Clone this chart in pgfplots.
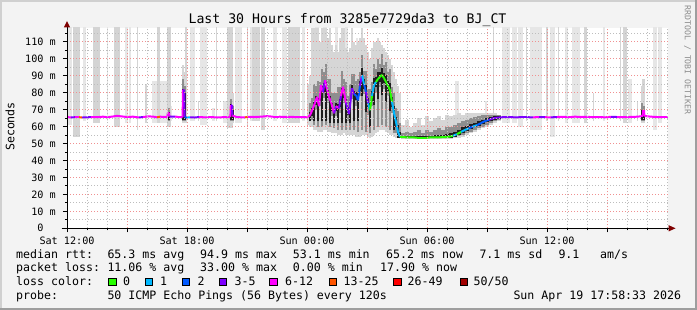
\documentclass[border=0pt]{standalone}
\usepackage{pgfplots}
\pgfplotsset{compat=1.18}
\usepackage{pgfplotstable}
\usepackage{fontspec}
\setmainfont{DejaVu Sans Mono}

\definecolor{bg}{HTML}{F3F3F3}
\definecolor{shadeA}{HTML}{D0D0D0}
\definecolor{shadeB}{HTML}{9E9E9E}
\definecolor{stripeL}{HTML}{E6E6E6}
\definecolor{stripeM}{HTML}{D4D4D4}
\definecolor{smokeA}{HTML}{D6D6D6}
\definecolor{smokeB}{HTML}{8E8E8E}
\definecolor{smokeC}{HTML}{1E1E1E}
\definecolor{mgrid}{HTML}{F09090}
\definecolor{ngrid}{HTML}{BDBDBD}
\definecolor{arrowc}{HTML}{7F0000}
\definecolor{lc0}{RGB}{38,255,0}
\definecolor{lc1}{RGB}{0,184,255}
\definecolor{lc2}{RGB}{0,89,255}
\definecolor{lc3}{RGB}{126,0,255}
\definecolor{lc4}{RGB}{255,0,255}
\definecolor{lc5}{RGB}{255,85,0}
\definecolor{lc6}{RGB}{255,0,0}
\definecolor{lc7}{RGB}{161,0,0}

\pgfplotsset{colormap={loss}{rgb255=(38,255,0) rgb255=(0,184,255) rgb255=(0,89,255) rgb255=(126,0,255) rgb255=(255,0,255) rgb255=(255,85,0) rgb255=(255,0,0) rgb255=(161,0,0)}}

\newcommand\deffont{\fontsize{11.6bp}{13.9bp}\selectfont}
\newcommand\titlefont{\fontsize{13.2bp}{15.8bp}\selectfont}
\newcommand\axisfont{\fontsize{10.15bp}{12.2bp}\selectfont}
\newcommand\wmfont{\fontsize{8.2bp}{9.8bp}\selectfont}

% median rtt (ms) over hours since Sat 12:00, c = loss colour index
\pgfplotstableread{
h m c
0.00 65.6 4
0.20 65.3 3
0.40 65.5 4
0.60 65.5 5
0.75 65.3 3
1.00 65.4 3
1.20 65.6 4
1.50 65.5 4
1.80 65.8 4
2.00 65.5 4
2.30 65.9 4
2.50 66.3 4
2.70 66.0 4
3.00 65.6 4
3.30 65.8 4
3.60 65.3 3
3.80 65.6 4
4.10 66.0 4
4.40 65.7 4
4.50 65.4 5
4.65 65.8 4
4.90 65.6 4
5.02 65.7 4
5.04 68.2 4
5.10 68.2 4
5.12 65.8 3
5.40 65.9 4
5.60 65.5 4
5.78 65.6 4
5.80 81.8 3
5.86 81.8 3
5.88 65.4 2
6.00 65.3 1
6.15 65.4 3
6.40 65.3 3
6.60 65.6 4
6.90 65.4 4
7.20 65.6 4
7.50 65.3 4
7.80 65.5 4
8.05 65.6 4
8.17 65.6 4
8.19 72.6 3
8.25 72.6 3
8.27 66.5 4
8.50 65.5 4
8.90 65.4 5
9.05 65.7 4
9.40 65.6 4
9.70 65.8 4
10.00 66.1 4
10.30 65.8 4
10.60 65.8 4
10.90 65.6 4
11.20 65.7 4
11.50 65.5 4
11.80 65.6 4
12.00 65.4 4
12.15 66.5 4
12.30 70.8 4
12.40 74.0 4
12.50 77.5 4
12.60 72.0 4
12.70 84.4 4
12.80 80.0 3
12.90 87.3 4
13.00 82.0 4
13.10 77.5 4
13.20 74.5 4
13.35 67.8 3
13.45 72.0 4
13.60 70.8 3
13.70 78.0 4
13.80 83.4 4
13.95 74.0 3
14.10 67.3 3
14.25 82.6 3
14.35 79.0 2
14.45 78.5 2
14.55 75.5 2
14.65 84.0 3
14.75 90.3 1
14.85 85.0 2
14.95 80.4 3
15.05 73.7 1
15.15 69.6 0
15.25 78.0 1
15.35 84.4 1
15.45 86.3 0
15.55 88.0 0
15.65 89.3 0
15.75 90.5 0
15.85 88.5 0
15.95 86.3 0
16.05 84.0 0
16.15 81.4 0
16.25 74.5 1
16.35 68.0 1
16.45 62.7 1
16.55 56.8 1
16.65 53.9 0
17.00 53.6 0
17.50 53.5 0
18.00 53.5 0
18.50 53.6 0
19.00 53.8 0
19.30 54.5 1
19.50 55.5 0
19.70 56.8 1
19.90 58.0 1
20.10 59.0 2
20.30 60.0 1
20.50 60.8 2
20.70 62.0 2
20.90 63.2 2
21.10 64.0 3
21.30 64.8 3
21.50 65.2 3
21.80 65.5 3
22.10 65.6 3
22.40 65.4 3
22.70 65.5 3
23.00 65.5 3
23.30 65.4 4
23.60 65.6 3
23.90 65.5 4
24.20 65.4 3
24.50 65.6 4
24.80 65.7 4
25.10 65.5 4
25.40 65.8 4
25.70 65.6 4
26.00 65.7 4
26.30 65.5 4
26.60 65.6 4
26.90 65.4 4
27.20 65.7 3
27.50 65.6 4
27.80 65.5 4
28.10 65.6 4
28.40 65.7 4
28.70 66.0 4
28.78 66.0 4
28.80 69.6 4
28.85 69.6 4
28.87 66.2 4
29.20 65.8 4
29.50 65.6 4
29.80 65.5 4
30.05 65.5 4
}\median

% smoke bands (2 px columns): light a, middle b, dark c
\pgfplotstableread{
h aL aH bL bH cL cH
5.08 63 76 63.5 71 64 68.5
5.81 62 96 63 88 64 82
5.89 62 92 63 84 64 80
8.20 62 86 63 76 64 73
8.28 62 80 63 72 64 70
12.15 60 90 63 74 63 68.5
12.25 60 118 64 77 66 71
12.35 58 118 61 85 63 74.5
12.45 58 118 70 84 72.8 77.8
12.55 57 118 60 87 63 76.8
12.65 57 110 72 86 75 80
12.75 57 118 60 94 63 84
12.85 58 118 77 92 80.5 85.5
12.95 58 118 61 97 63 86.5
13.05 57 112 74 88 76.8 81.8
13.15 57 118 60 88 62 78
13.25 56 108 66 80 69 74
13.35 56 104 59 80 62 69.8
13.45 56 108 66 80 69 74
13.55 55 104 58 83 62 73.2
13.65 55 112 68 83 71.5 76.5
13.75 55 118 58 93 62 82.7
13.85 56 118 74 88 77 82
13.95 55 106 58 86 62 76
14.05 55 104 63 78 66.5 71.5
14.15 55 106 58 85 62 74.5
14.25 55 118 76 91 79.6 84.6
14.35 55 110 58 91 63 81
14.45 54 108 72 87 75.5 80.5
14.55 54 110 57 88 63.5 79.5
14.65 54 112 78 92 81 87
14.75 55 118 58 102 78 94.3
14.85 55 112 79 93 82 88
14.95 55 108 57 93 68.4 84.4
15.05 54 104 67 82 70.7 76.7
15.15 53 100 56 82 60 73.6
15.25 54 106 72 86 75 81
15.35 55 110 58 97 72.4 88.4
15.45 56 110 80 94 83.3 89.3
15.55 57 112 60 100 76 92
15.65 58 110 83 97 86.3 92.3
15.75 58 108 61 103 78.5 94.5
15.85 58 106 82 96 85.5 91.5
15.95 57 104 60 98 74.3 90.3
16.05 56 102 78 92 81 87
16.15 55 100 58 94 69.4 85.4
16.25 55 96 68 83 71.5 77.5
16.35 54 92 56 80 58 72
16.45 53 88 56 71 59.7 65.7
16.55 53 84 54 69 53.5 60.8
16.65 53 80 53 62 53 57
28.76 62 84 63 74 64 70
28.84 62 80 63 72 64 69
}\smokeH

% smoke over the slow climb back (4 px columns)
\pgfplotstableread{
h aL aH bL bH cL cH
16.80 52.5 61 53 56 53 54.5
17.00 52.5 64 53 57 53 54.5
17.20 52.5 60 53 56 53 54.5
17.40 52.5 62 53 57 53 54.5
17.60 52.5 65 53 58 53 54.5
17.80 52.5 61 53 56 53 54.5
18.00 52.5 66 53 58 53 54.5
18.20 52.5 63 53 57 53 54.5
18.40 52.5 65 53 58 53 54.8
18.60 52.5 66 53 59 53 55
18.80 52.5 64 53 58 53 55
19.00 52.5 67 53 60 53 55.5
19.20 52.5 66 53 60 53.5 56
19.40 53 67 54 61 54 57
19.60 53.5 68 54.5 62 55 58
19.80 54 67 55 63 56 59.5
20.00 55 68 56 64 57.5 60.5
20.20 56 68 57 65 58.5 61.5
20.40 57 68 58 65.5 59.5 62
20.60 58 68 59 66 60.5 63
20.80 59 68 60 66.5 61.5 64
21.00 60 68 61 67 62.5 65
21.20 61 68 62 67 63.5 65.5
21.40 62 68 63 67 64 66
21.60 63 67 64 66.5 64.5 66
}\smokeR

\begin{document}
\begin{tikzpicture}
\useasboundingbox (0,0) rectangle (697bp,310bp);
\fill[bg] (0,0) rectangle (697bp,310bp);
\fill[shadeA] (0,308bp) rectangle (697bp,310bp);
\fill[shadeA] (0,0) rectangle (2bp,310bp);
\fill[shadeB] (0,0) rectangle (697bp,2bp);
\fill[shadeB] (695bp,0) rectangle (697bp,310bp);

\begin{axis}[
  at={(67bp,81.7bp)}, anchor=south west,
  scale only axis, width=601bp, height=200.6bp,
  xmin=0, xmax=30.05, ymin=0, ymax=118.25,
  axis on top,
  axis background/.style={fill=white},
  axis line style={draw=none},
  tick pos=left, tick align=outside,
  major tick length=4bp, minor tick length=2bp,
  tick style={black, line width=0.8bp},
  xtick={0,3,...,27},
  xticklabels={Sat 12:00,{},Sat 18:00,{},Sun 00:00,{},Sun 06:00,{},Sun 12:00,{}},
  minor xtick={1,2,4,5,7,8,10,11,13,14,16,17,19,20,22,23,25,26,28,29,30},
  ytick={0,10,...,110},
  minor ytick={5,15,...,115},
  yticklabels={0\phantom{~m},10~m,20~m,30~m,40~m,50~m,60~m,70~m,80~m,90~m,100~m,110~m},
  tick label style={font=\axisfont, text=black},
  xticklabel style={anchor=base, inner sep=0pt, yshift=-12.4bp},
  yticklabel style={anchor=east, inner sep=0pt, xshift=-7bp},
  /pgf/number format/assume math mode=true,
  grid=both,
  major grid style={draw=mgrid, line width=0.8bp, dash pattern=on 1bp off 2bp},
  minor grid style={draw=ngrid, line width=0.8bp, dash pattern=on 1bp off 2bp},
  smk/.style={draw=none, mark=none, error bars/.cd, y dir=plus, y explicit, error mark=none},
]
% light smoke stripes: (start,bottom) (start,top) (end,top) (end,bottom)
\addplot[fill=stripeL, draw=none] coordinates {(0.00,61)(0.00,120)(0.24,120)(0.24,61)};
\addplot[fill=stripeL, draw=none] coordinates {(0.80,63)(0.80,120)(0.95,120)(0.95,63)};
\addplot[fill=stripeL, draw=none] coordinates {(2.00,63)(2.00,120)(2.07,120)(2.07,63)};
\addplot[fill=stripeL, draw=none] coordinates {(2.90,62)(2.90,120)(3.05,120)(3.05,62)};
\addplot[fill=stripeL, draw=none] coordinates {(3.10,62)(3.10,120)(3.20,120)(3.20,62)};
\addplot[fill=stripeL, draw=none] coordinates {(4.25,62)(4.25,87)(5.00,87)(5.00,62)};
\addplot[fill=stripeL, draw=none] coordinates {(5.05,63)(5.05,72)(5.25,72)(5.25,63)};
\addplot[fill=stripeL, draw=none] coordinates {(6.15,63)(6.15,120)(6.40,120)(6.40,63)};
\addplot[fill=stripeL, draw=none] coordinates {(6.65,61)(6.65,120)(7.00,120)(7.00,61)};
\addplot[fill=stripeL, draw=none] coordinates {(7.25,63)(7.25,71)(7.40,71)(7.40,63)};
\addplot[fill=stripeL, draw=none] coordinates {(7.80,62)(7.80,75)(8.05,75)(8.05,62)};
\addplot[fill=stripeL, draw=none] coordinates {(8.40,62)(8.40,120)(8.75,120)(8.75,62)};
\addplot[fill=stripeL, draw=none] coordinates {(9.15,63)(9.15,120)(9.30,120)(9.30,63)};
\addplot[fill=stripeL, draw=none] coordinates {(10.30,63)(10.30,120)(10.50,120)(10.50,63)};
\addplot[fill=stripeL, draw=none] coordinates {(10.75,62)(10.75,120)(11.00,120)(11.00,62)};
\addplot[fill=stripeL, draw=none] coordinates {(11.75,63)(11.75,120)(11.90,120)(11.90,63)};
\addplot[fill=stripeL, draw=none] coordinates {(12.40,60)(12.40,120)(12.60,120)(12.60,60)};
\addplot[fill=stripeL, draw=none] coordinates {(12.80,60)(12.80,120)(13.00,120)(13.00,60)};
\addplot[fill=stripeL, draw=none] coordinates {(13.40,60)(13.40,120)(13.55,120)(13.55,60)};
\addplot[fill=stripeL, draw=none] coordinates {(13.90,58)(13.90,120)(14.05,120)(14.05,58)};
\addplot[fill=stripeL, draw=none] coordinates {(14.45,58)(14.45,112)(14.55,112)(14.55,58)};
\addplot[fill=stripeL, draw=none] coordinates {(15.35,58)(15.35,110)(15.50,110)(15.50,58)};
\addplot[fill=stripeL, draw=none] coordinates {(19.40,54)(19.40,87)(19.60,87)(19.60,54)};
\addplot[fill=stripeL, draw=none] coordinates {(20.90,60)(20.90,75)(21.00,75)(21.00,60)};
\addplot[fill=stripeL, draw=none] coordinates {(21.75,62)(21.75,120)(22.15,120)(22.15,62)};
\addplot[fill=stripeL, draw=none] coordinates {(22.25,62)(22.25,120)(22.50,120)(22.50,62)};
\addplot[fill=stripeL, draw=none] coordinates {(22.55,60)(22.55,120)(22.80,120)(22.80,60)};
\addplot[fill=stripeL, draw=none] coordinates {(23.15,58)(23.15,120)(23.75,120)(23.75,58)};
\addplot[fill=stripeL, draw=none] coordinates {(24.15,54)(24.15,120)(24.40,120)(24.40,54)};
\addplot[fill=stripeL, draw=none] coordinates {(24.90,62)(24.90,120)(25.05,120)(25.05,62)};
\addplot[fill=stripeL, draw=none] coordinates {(25.25,62)(25.25,120)(25.65,120)(25.65,62)};
\addplot[fill=stripeL, draw=none] coordinates {(26.80,63)(26.80,120)(26.90,120)(26.90,63)};
\addplot[fill=stripeL, draw=none] coordinates {(28.05,62)(28.05,88)(28.25,88)(28.25,62)};
\addplot[fill=stripeL, draw=none] coordinates {(29.30,58)(29.30,120)(29.50,120)(29.50,58)};
\addplot[fill=stripeL, draw=none] coordinates {(29.55,62)(29.55,120)(29.75,120)(29.75,62)};
% medium smoke stripes
\addplot[fill=stripeM, draw=none] coordinates {(0.30,54)(0.30,120)(0.65,120)(0.65,54)};
\addplot[fill=stripeM, draw=none] coordinates {(1.30,62)(1.30,120)(1.65,120)(1.65,62)};
\addplot[fill=stripeM, draw=none] coordinates {(2.35,60)(2.35,120)(2.65,120)(2.65,60)};
\addplot[fill=stripeM, draw=none] coordinates {(3.50,58)(3.50,120)(3.55,120)(3.55,58)};
\addplot[fill=stripeM, draw=none] coordinates {(3.90,62)(3.90,85)(4.00,85)(4.00,62)};
\addplot[fill=stripeM, draw=none] coordinates {(4.50,62)(4.50,120)(4.65,120)(4.65,62)};
\addplot[fill=stripeM, draw=none] coordinates {(5.00,60)(5.00,120)(5.20,120)(5.20,60)};
\addplot[fill=stripeM, draw=none] coordinates {(5.88,62)(5.88,120)(5.98,120)(5.98,62)};
\addplot[fill=stripeM, draw=none] coordinates {(6.55,63)(6.55,75)(6.60,75)(6.60,63)};
\addplot[fill=stripeM, draw=none] coordinates {(7.45,63)(7.45,120)(7.50,120)(7.50,63)};
\addplot[fill=stripeM, draw=none] coordinates {(8.00,59)(8.00,120)(8.30,120)(8.30,59)};
\addplot[fill=stripeM, draw=none] coordinates {(9.00,60)(9.00,120)(9.05,120)(9.05,60)};
\addplot[fill=stripeM, draw=none] coordinates {(9.25,63)(9.25,120)(9.65,120)(9.65,63)};
\addplot[fill=stripeM, draw=none] coordinates {(9.70,58)(9.70,120)(9.90,120)(9.90,58)};
\addplot[fill=stripeM, draw=none] coordinates {(11.05,62)(11.05,120)(11.65,120)(11.65,62)};
\addplot[fill=stripeM, draw=none] coordinates {(12.00,61)(12.00,85)(12.15,85)(12.15,61)};
\addplot[fill=stripeM, draw=none] coordinates {(21.30,63)(21.30,120)(21.35,120)(21.35,63)};
\addplot[fill=stripeM, draw=none] coordinates {(22.95,63)(22.95,120)(23.00,120)(23.00,63)};
\addplot[fill=stripeM, draw=none] coordinates {(23.95,63)(23.95,120)(24.05,120)(24.05,63)};
\addplot[fill=stripeM, draw=none] coordinates {(24.55,63)(24.55,120)(24.60,120)(24.60,63)};
\addplot[fill=stripeM, draw=none] coordinates {(25.85,62)(25.85,120)(26.00,120)(26.00,62)};
\addplot[fill=stripeM, draw=none] coordinates {(26.30,63)(26.30,80)(26.35,80)(26.35,63)};
\addplot[fill=stripeM, draw=none] coordinates {(27.65,63)(27.65,120)(27.70,120)(27.70,63)};
\addplot[fill=stripeM, draw=none] coordinates {(27.80,62)(27.80,120)(28.00,120)(28.00,62)};
\addplot[fill=stripeM, draw=none] coordinates {(28.50,63)(28.50,75)(28.55,75)(28.55,63)};
\addplot[fill=stripeM, draw=none] coordinates {(28.75,62)(28.75,88)(28.90,88)(28.90,62)};
% smoke around the median
\addplot[smk, error bar style={draw=smokeA, line width=2.2bp}]
  table[x=h, y=aL, y error plus expr=\thisrow{aH}-\thisrow{aL}]{\smokeH};
\addplot[smk, error bar style={draw=smokeA, line width=4.2bp}]
  table[x=h, y=aL, y error plus expr=\thisrow{aH}-\thisrow{aL}]{\smokeR};
\addplot[smk, error bar style={draw=smokeB, line width=2.2bp}]
  table[x=h, y=bL, y error plus expr=\thisrow{bH}-\thisrow{bL}]{\smokeH};
\addplot[smk, error bar style={draw=smokeB, line width=4.2bp}]
  table[x=h, y=bL, y error plus expr=\thisrow{bH}-\thisrow{bL}]{\smokeR};
\addplot[smk, error bar style={draw=smokeC, line width=2.2bp}]
  table[x=h, y=cL, y error plus expr=\thisrow{cH}-\thisrow{cL}]{\smokeH};
\addplot[smk, error bar style={draw=smokeC, line width=4.2bp}]
  table[x=h, y=cL, y error plus expr=\thisrow{cH}-\thisrow{cL}]{\smokeR};
% median coloured by loss
\addplot[mesh, shader=flat corner, colormap name=loss, colormap access=direct,
  point meta=explicit, line width=2bp] table[x=h, y=m, meta=c]{\median};
\end{axis}

% axes lines and arrows
\draw[black, line width=1bp] (61.7bp,81.7bp) -- (669bp,81.7bp);
\draw[black, line width=1bp] (67bp,78.3bp) -- (67bp,284bp);
\fill[arrowc] (668.5bp,84.9bp) -- (675.5bp,81.7bp) -- (668.5bp,78.5bp) -- cycle;
\fill[arrowc] (63.8bp,282.5bp) -- (67bp,289bp) -- (70.2bp,282.5bp) -- cycle;

% title, axis label, credit
\node[anchor=base, inner sep=0pt, font=\titlefont] at (347.5bp,286.7bp) {Last 30 Hours from 3285e7729da3 to BJ\_CT};
\node[rotate=90, inner sep=0pt, font=\deffont] at (10bp,183.5bp) {Seconds};
\node[rotate=-90, inner sep=0pt, font=\wmfont, text=black!45] at (687.5bp,250bp) {RRDTOOL / TOBI OETIKER};

% legend rows
\begin{scope}[every node/.style={anchor=base west, inner sep=0pt, font=\deffont}]
\node at (16bp,51.7bp) {median rtt:};
\node at (107.3bp,51.7bp) {65.3 ms avg};
\node at (200bp,51.7bp) {94.9 ms max};
\node at (292.7bp,51.7bp) {53.1 ms min};
\node at (386bp,51.7bp) {65.2 ms now};
\node at (479.3bp,51.7bp) {7.1 ms sd};
\node at (558.3bp,51.7bp) {9.1};
\node at (600bp,51.7bp) {am/s};
\node at (16bp,38.3bp) {packet loss:};
\node at (107.3bp,38.3bp) {11.06 \% avg};
\node at (200bp,38.3bp) {33.00 \% max};
\node at (292.7bp,38.3bp) {0.00 \% min};
\node at (380bp,38.3bp) {17.90 \% now};
\node at (16bp,24.3bp) {loss color:};
\node at (123bp,24.3bp) {0};
\node at (160bp,24.3bp) {1};
\node at (197.3bp,24.3bp) {2};
\node at (234.5bp,24.3bp) {3-5};
\node at (285bp,24.3bp) {6-12};
\node at (343.5bp,24.3bp) {13-25};
\node at (407.5bp,24.3bp) {26-49};
\node at (473.5bp,24.3bp) {50/50};
\node at (16bp,10.7bp) {probe:};
\node at (107.3bp,10.7bp) {50 ICMP Echo Pings (56 Bytes) every 120s};
\node at (513.3bp,10.7bp) {Sun Apr 19 17:58:33 2026};
\end{scope}
\foreach \xx/\cc in {108.5/lc0,145.3/lc1,182.3/lc2,219.3/lc3,269.5/lc4,329.3/lc5,393.5/lc6,460/lc7}
  \filldraw[fill=\cc, draw=black, line width=0.8bp] (\xx bp,24.4bp) rectangle ++(7.4bp,7.4bp);
\end{tikzpicture}
\end{document}
